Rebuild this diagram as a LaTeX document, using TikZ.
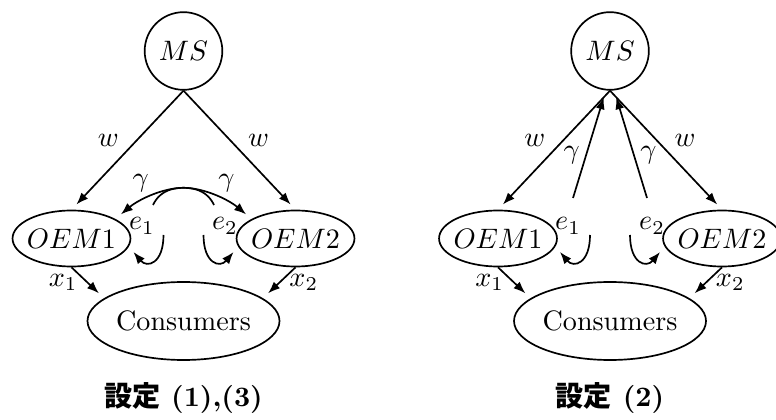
\documentclass[tikz,border=0pt]{standalone}
\usepackage{amsmath}
\usepackage{fontspec}
\usepackage{tikz}
\usetikzlibrary{arrows.meta}
\usetikzlibrary{shapes.geometric}
\newfontfamily\jpfont{Noto Sans CJK JP}
\tikzset{>={Latex[length=4.3pt, width=3.2pt]},
         firm/.style = {circle, draw, minimum size=0.95cm},
         oem/.style = {ellipse, draw, inner sep=-1pt, minimum width=1.375cm, minimum height=0.7cm},
         market/.style = {ellipse, draw, inner sep=0pt, minimum width=2.4cm, minimum height=0.975cm},
         lbl/.style = {inner sep=2pt},
         arr/.style = {->, shorten >=2.5pt}}

\begin{document}
\begin{tikzpicture}[x=0.125mm, y=0.125mm, semithick]
    \useasboundingbox (0, 0) rectangle (776, 419);
    % setting (1),(3)
    \node [firm] (msA) at (183.5, 368) {$MS$};
    \node [oem] (oem1A) at (71.5, 180.5) {$OEM1$};
    \node [oem] (oem2A) at (295.5, 180.5) {$OEM2$};
    \node [market] (consA) at (183.5, 98) {Consumers};
    \node (e1A) at (142, 193) {$e_1$};
    \node (e2A) at (225, 193) {$e_2$};
    \coordinate (g1A) at (153, 214);
    \coordinate (g2A) at (214, 214);
    \coordinate (l1A) at (163.5, 184);
    \coordinate (l2A) at (203.5, 184);
    \draw [arr] (msA.south) -- (oem1A.north) node [lbl, pos=0.52, above left] {$w$};
    \draw [arr] (msA.south) -- (oem2A.north) node [lbl, pos=0.52, above right] {$w$};
    \draw [arr] (g1A) to [out=65, in=140, looseness=0.95] node [near end, above] {$\gamma$} (oem2A.156);
    \draw [arr] (g2A) to [out=115, in=40, looseness=0.95] node [near end, above] {$\gamma$} (oem1A.24);
    \draw [arr] (l1A) to [out=-90, in=-50, looseness=2] (oem1A.-8);
    \draw [arr] (l2A) to [out=-90, in=-130, looseness=2] (oem2A.188);
    \draw [arr] (oem1A.south) -- (consA.164) node [midway, left] {$x_1$};
    \draw [arr] (oem2A.south) -- (consA.16) node [midway, right] {$x_2$};
    \node (capA) at (183.5, 21) {\textbf{{\jpfont 設定} (1),(3)}};

    % setting (2)
    \node [firm] (msB) at (610, 368) {$MS$};
    \node [oem] (oem1B) at (498, 180.5) {$OEM1$};
    \node [oem] (oem2B) at (722, 180.5) {$OEM2$};
    \node [market] (consB) at (610, 98) {Consumers};
    \node (e1B) at (568, 193) {$e_1$};
    \node (e2B) at (652, 193) {$e_2$};
    \coordinate (g1B) at (573, 221);
    \coordinate (g2B) at (647, 221);
    \coordinate (l1B) at (590, 184);
    \coordinate (l2B) at (630, 184);
    \draw [arr] (msB.south) -- (oem1B.north) node [lbl, pos=0.52, above left] {$w$};
    \draw [arr] (msB.south) -- (oem2B.north) node [lbl, pos=0.52, above right] {$w$};
    \draw [arr] (g1B) -- (msB.-96) node [lbl, pos=0.4, left] {$\gamma$};
    \draw [arr] (g2B) -- (msB.-84) node [lbl, pos=0.4, right] {$\gamma$};
    \draw [arr] (l1B) to [out=-90, in=-50, looseness=2] (oem1B.-8);
    \draw [arr] (l2B) to [out=-90, in=-130, looseness=2] (oem2B.188);
    \draw [arr] (oem1B.south) -- (consB.164) node [midway, left] {$x_1$};
    \draw [arr] (oem2B.south) -- (consB.16) node [midway, right] {$x_2$};
    \node (capB) at (610, 21) {\textbf{{\jpfont 設定} (2)}};
\end{tikzpicture}
\end{document}
